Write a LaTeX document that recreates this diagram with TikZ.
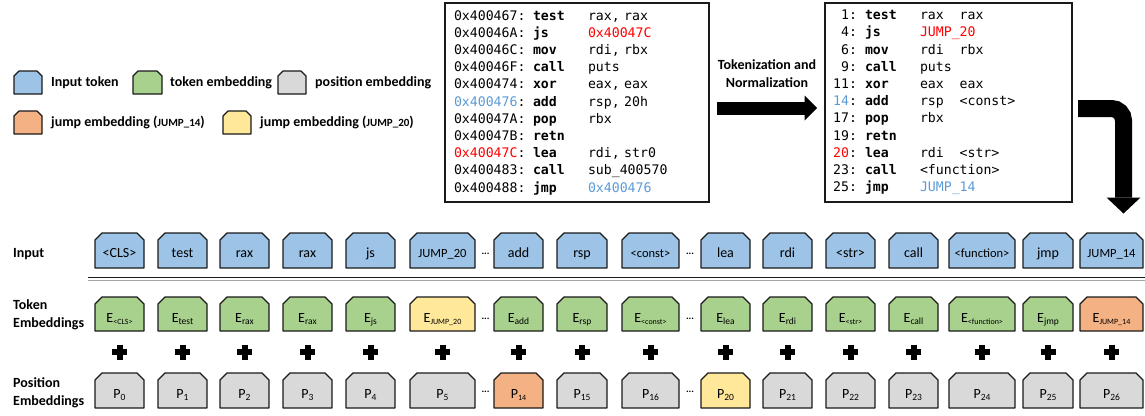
\documentclass[tikz,border=0pt]{standalone}
\usepackage{fontspec}
\setmainfont{Carlito}
\setmonofont[Scale=1.0]{DejaVu Sans Mono}
\definecolor{inpc}{HTML}{9DC3E6}
\definecolor{tokc}{HTML}{A9D18E}
\definecolor{posc}{HTML}{D9D9D9}
\definecolor{jfourteen}{HTML}{F4B183}
\definecolor{jtwenty}{HTML}{FFE899}
\definecolor{codered}{HTML}{FF0000}
\definecolor{codeblue}{HTML}{5B9BD5}
\definecolor{edge}{HTML}{1A1A1A}
\newcommand\sm[1]{{\fontsize{12.5}{14}\selectfont #1}}
\newcommand\subt[1]{\raisebox{-2.5pt}{\fontsize{9.5}{10}\selectfont #1}}
\newcommand\subs[1]{\raisebox{-2.5pt}{\fontsize{8}{9}\selectfont #1}}
\newcommand\cred[1]{\textcolor{codered}{#1}}
\newcommand\cblue[1]{\textcolor{codeblue}{#1}}
\newcommand\codefont{\fontsize{13.2}{17.2}\selectfont\ttfamily}
% left code line: address, mnemonic, operands
\newcommand\lcl[3]{\makebox[79pt][l]{#1}\makebox[55pt][l]{\textbf{#2}}#3}
% right code line: number, mnemonic, operands
\newcommand\rcl[3]{\makebox[16pt][r]{#1}\makebox[16pt][l]{:}\makebox[55pt][l]{\textbf{#2}}#3}
\newcommand\gap{\hspace*{15.8pt}}
% chamfered box: x1 x2 ytop ybottom chamfer options
\newcommand\chbox[6]{\path[#6] (#1,#4) -- (#1,{#3+#5}) -- ({#1+#5},#3) -- ({#2-#5},#3) -- (#2,{#3+#5}) -- (#2,#4) -- cycle;}
\tikzset{
  tokbox/.style={draw=edge, line width=1.3pt, line join=round},
  boxtext/.style={inner sep=0pt, font=\fontsize{14}{16}\selectfont, anchor=base},
  lbl/.style={font=\bfseries\fontsize{14}{17.5}\selectfont, align=left, inner sep=0pt},
  codebox/.style={draw=edge, line width=1.5pt, outer sep=0pt, inner ysep=0pt,
    minimum height=199pt, align=left, font=\codefont},
  plussign/.style={line width=6pt, draw=black},
  dotstext/.style={font=\bfseries\fontsize{10}{10}\selectfont, inner sep=0pt, anchor=base},
}
\begin{document}
\begin{tikzpicture}[x=1pt,y=-1pt]
\useasboundingbox (0,0) rectangle (1145,415);

% legend
\chbox{14}{42}{71}{94}{5}{tokbox,fill=inpc}
\node[lbl,anchor=west] (lg1) at (51,82.5) {Input token};
\chbox{133}{162}{71}{94}{5}{tokbox,fill=tokc}
\node[lbl,anchor=west] (lg2) at (170,82.5) {token embedding};
\chbox{278}{306}{71}{94}{5}{tokbox,fill=posc}
\node[lbl,anchor=west] (lg3) at (315,82.5) {position embedding};
\chbox{14}{42}{111}{134}{5}{tokbox,fill=jfourteen}
\node[lbl,anchor=west] (lg4) at (51,122.5) {jump embedding ({\fontsize{11}{12}\selectfont JUMP\_14})};
\chbox{223}{251}{111}{134}{5}{tokbox,fill=jtwenty}
\node[lbl,anchor=west] (lg5) at (260,122.5) {jump embedding ({\fontsize{11}{12}\selectfont JUMP\_20})};

% code boxes
\node[codebox, minimum width=264pt, text width=246pt, inner xsep=9pt] (lc) at (577,102.5) {\codefont
\lcl{0x400467:}{test}{rax, rax}\\
\lcl{0x40046A:}{js}{\cred{0x40047C}}\\
\lcl{0x40046C:}{mov}{rdi, rbx}\\
\lcl{0x40046F:}{call}{puts}\\
\lcl{0x400474:}{xor}{eax, eax}\\
\lcl{\cblue{0x400476}:}{add}{rsp, 20h}\\
\lcl{0x40047A:}{pop}{rbx}\\
\lcl{0x40047B:}{retn}{}\\
\lcl{\cred{0x40047C}:}{lea}{rdi, str0}\\
\lcl{0x400483:}{call}{sub\_400570}\\
\lcl{0x400488:}{jmp}{\cblue{0x400476}}};

\node[codebox, minimum width=247pt, text width=231pt, inner xsep=8pt] (rc) at (948.5,102.5) {\codefont
\rcl{1}{test}{rax\gap rax}\\
\rcl{4}{js}{\cred{JUMP\_20}}\\
\rcl{6}{mov}{rdi\gap rbx}\\
\rcl{9}{call}{puts}\\
\rcl{11}{xor}{eax\gap eax}\\
\rcl{\cblue{14}}{add}{rsp\gap <const>}\\
\rcl{17}{pop}{rbx}\\
\rcl{19}{retn}{}\\
\rcl{\cred{20}}{lea}{rdi\gap <str>}\\
\rcl{23}{call}{<function>}\\
\rcl{25}{jmp}{\cblue{JUMP\_14}}};

% tokenization arrow
\node[lbl, align=center] (tn) at (767,73.5) {Tokenization and\\Normalization};
\draw[line width=13pt] ([xshift=8pt,yshift=-5.5pt]lc.east) -- ([xshift=-20pt,yshift=-5.5pt]rc.west);
\fill ([xshift=-20.5pt,yshift=7pt]rc.west) -- ([xshift=-8pt,yshift=-5.5pt]rc.west) -- ([xshift=-20.5pt,yshift=-18pt]rc.west) -- cycle;

% bent arrow
\draw[line width=17pt, rounded corners=12pt] ([xshift=6pt,yshift=-6pt]rc.east) -- ++(45.5,0) -- ++(0,89) coordinate (be);
\fill ([xshift=-17pt]be) -- ([xshift=17pt]be) -- ([yshift=-16pt]be) -- cycle;

% row labels
\node[lbl,anchor=base west] (linp) at (13,257) {Input};
\node[lbl,anchor=west] (ltok) at (13,315) {Token\\Embeddings};
\node[lbl,anchor=west] (lpos) at (13,393) {Position\\Embeddings};

% divider
\draw[edge, line width=1.5pt] (88,277.5) -- (1145,277.5);
\draw[gray!70, line width=1pt] (88,280.5) -- (1145,280.5);

% input row
\foreach \i/\a/\b/\t in {1/95/144/{<CLS>}, 2/158/207/test, 3/220/269/rax, 4/283/332/rax,
  5/346/395/js, 6/410/475/{\sm{JUMP\_20}}, 7/494/543/add, 8/557/607/rsp,
  9/622/679/{\sm{<const>}}, 10/701/750/lea, 11/763/812/rdi, 12/826/875/{<str>},
  13/889/938/call, 14/949/1015/{\sm{<function>}}, 15/1023/1073/jmp, 16/1080/1143/{\sm{JUMP\_14}}}{
  \chbox{\a}{\b}{233}{268}{7}{tokbox,fill=inpc}
  \node[boxtext] (in\i) at ({(\a+\b)/2},257) {\t};
}

% token row
\foreach \i/\a/\b/\c/\t in {1/95/144/tokc/{E\subs{<CLS>}}, 2/158/207/tokc/{E\subt{test}},
  3/220/269/tokc/{E\subt{rax}}, 4/283/332/tokc/{E\subt{rax}}, 5/346/395/tokc/{E\subt{js}},
  6/410/475/jtwenty/{E\subs{JUMP\_20}}, 7/494/543/tokc/{E\subt{add}}, 8/557/607/tokc/{E\subt{rsp}},
  9/622/679/tokc/{E\subs{<const>}}, 10/701/750/tokc/{E\subt{lea}}, 11/763/812/tokc/{E\subt{rdi}},
  12/826/875/tokc/{E\subs{<str>}}, 13/889/938/tokc/{E\subt{call}}, 14/949/1015/tokc/{E\subs{<function>}},
  15/1023/1073/tokc/{E\subt{jmp}}, 16/1080/1143/jfourteen/{E\subs{JUMP\_14}}}{
  \chbox{\a}{\b}{297}{331}{7}{tokbox,fill=\c}
  \node[boxtext] (te\i) at ({(\a+\b)/2},322) {\t};
}

% position row
\foreach \i/\a/\b/\c/\t in {1/95/144/posc/{\subt{0}}, 2/158/207/posc/{\subt{1}}, 3/220/269/posc/{\subt{2}}, 4/283/332/posc/{\subt{3}},
  5/346/395/posc/{\subt{4}}, 6/410/475/posc/{\subt{5}}, 7/494/543/jfourteen/{\subs{14}}, 8/557/607/posc/{\subt{15}},
  9/622/679/posc/{\subt{16}}, 10/701/750/jtwenty/{\subt{20}}, 11/763/812/posc/{\subt{21}}, 12/826/875/posc/{\subt{22}},
  13/889/938/posc/{\subt{23}}, 14/949/1015/posc/{\subt{24}}, 15/1023/1073/posc/{\subt{25}}, 16/1080/1143/posc/{\subt{26}}}{
  \chbox{\a}{\b}{373}{408}{7}{tokbox,fill=\c}
  \node[boxtext] (pe\i) at ({(\a+\b)/2},398) {P\t};
  \draw[plussign] ({(\a+\b)/2-7.5},352) -- ({(\a+\b)/2+7.5},352)
                  ({(\a+\b)/2},344.5) -- ({(\a+\b)/2},359.5);
}

% ellipses
\node[dotstext] (d1) at (485.5,254) {...};
\node[dotstext] (d2) at (690,254) {...};
\node[dotstext] (d3) at (485.5,319) {...};
\node[dotstext] (d4) at (690,319) {...};
\node[dotstext] (d5) at (485.5,392) {...};
\node[dotstext] (d6) at (690,392) {...};
\end{tikzpicture}
\end{document}
